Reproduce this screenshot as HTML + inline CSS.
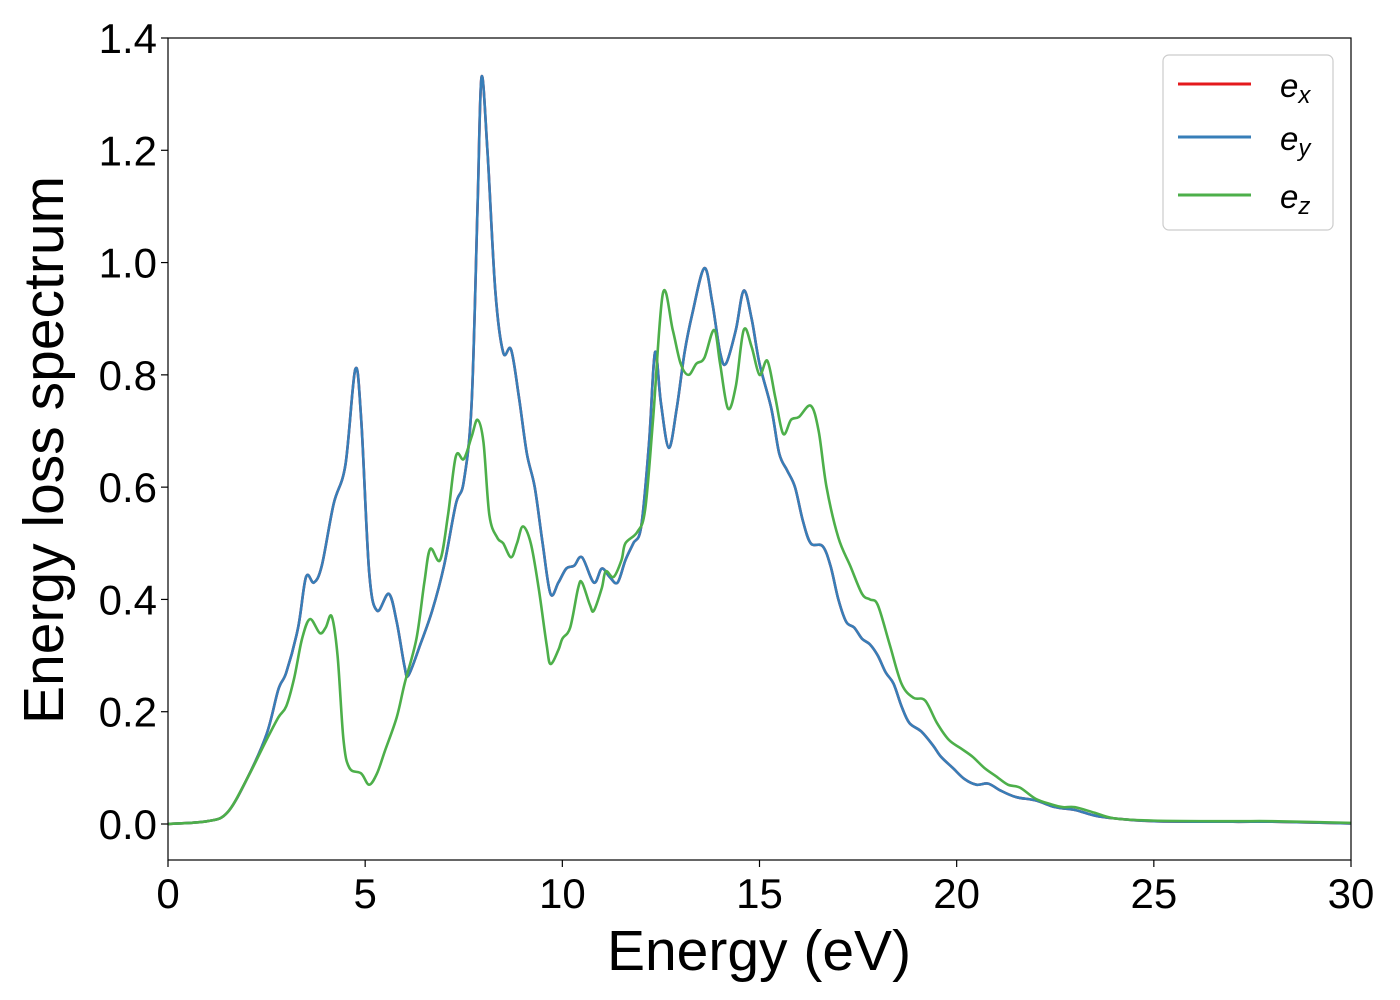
<!DOCTYPE html>
<html><head><meta charset="utf-8"><style>
body{margin:0;background:#fff;}
svg{display:block;font-family:"Liberation Sans","DejaVu Sans",sans-serif;}
</style></head><body>
<svg id="chart" width="1400" height="1000" viewBox="0 0 1400 1000" xmlns="http://www.w3.org/2000/svg">
<rect width="1400" height="1000" fill="#fff"/>
<g id="series"></g>
<rect x="168" y="38" width="1183" height="822" fill="none" stroke="#000" stroke-width="1.2"/>
<g id="ticks"></g>
<text x="759" y="970" font-size="57" text-anchor="middle">Energy (eV)</text>
<text transform="translate(63,450) rotate(-90)" font-size="57" text-anchor="middle">Energy loss spectrum</text>
<g>
<rect x="1163" y="55" width="170" height="175" rx="6" fill="#fff" fill-opacity="0.8" stroke="#ccc" stroke-width="1.2"/>
<line x1="1178" y1="84" x2="1251" y2="84" stroke="#e41a1c" stroke-width="3"/>
<text x="1280" y="97" font-size="33" font-style="italic">e<tspan font-size="24" dy="6">x</tspan></text>
<line x1="1178" y1="137" x2="1251" y2="137" stroke="#377eb8" stroke-width="3"/>
<text x="1280" y="150" font-size="33" font-style="italic">e<tspan font-size="24" dy="6">y</tspan></text>
<line x1="1178" y1="195" x2="1251" y2="195" stroke="#4daf4a" stroke-width="3"/>
<text x="1280" y="208" font-size="33" font-style="italic">e<tspan font-size="24" dy="6">z</tspan></text>
</g>
</svg>
<script>
const xTickLabels = ["0","5","10","15","20","25","30"];
const xTickValues = [0,5,10,15,20,25,30];
const yTickLabels = ["0.0","0.2","0.4","0.6","0.8","1.0","1.2","1.4"];
const yTickValues = [0,0.2,0.4,0.6,0.8,1.0,1.2,1.4];
const exyEnergy = [0,1,1.5,2,2.5,2.8,3.0,3.3,3.5,3.7,3.9,4.2,4.5,4.75,4.9,5.1,5.3,5.6,5.8,6.0,6.1,6.4,6.7,7.0,7.3,7.5,7.7,7.85,7.95,8.1,8.3,8.5,8.7,8.9,9.1,9.3,9.5,9.7,9.9,10.1,10.3,10.5,10.8,11.0,11.2,11.4,11.6,11.8,12.0,12.2,12.35,12.5,12.7,12.9,13.1,13.3,13.6,13.8,14.0,14.15,14.4,14.6,14.8,15.0,15.3,15.5,15.7,15.9,16.1,16.3,16.6,16.8,17.0,17.2,17.4,17.6,17.8,18.0,18.2,18.4,18.6,18.8,19.1,19.4,19.6,19.9,20.2,20.5,20.8,21.1,21.5,22.0,22.5,23.0,23.5,24,25,27,28,30];
const exyLoss = [0,0.005,0.02,0.08,0.16,0.24,0.27,0.35,0.44,0.43,0.46,0.57,0.64,0.81,0.72,0.45,0.38,0.41,0.36,0.28,0.265,0.32,0.38,0.46,0.57,0.61,0.75,1.1,1.33,1.2,0.95,0.84,0.845,0.76,0.66,0.6,0.5,0.41,0.43,0.455,0.46,0.475,0.43,0.455,0.44,0.43,0.47,0.5,0.53,0.68,0.84,0.75,0.67,0.74,0.84,0.91,0.99,0.93,0.84,0.82,0.88,0.95,0.9,0.82,0.74,0.66,0.63,0.6,0.54,0.5,0.495,0.46,0.4,0.36,0.35,0.33,0.32,0.3,0.27,0.25,0.21,0.18,0.165,0.14,0.12,0.1,0.08,0.07,0.072,0.06,0.048,0.042,0.03,0.025,0.015,0.01,0.005,0.004,0.004,0.001];
const ezEnergy = [0,1,1.5,2,2.5,2.8,3.0,3.2,3.4,3.6,3.85,4.0,4.15,4.3,4.45,4.6,4.9,5.1,5.3,5.5,5.8,6.0,6.3,6.5,6.65,6.9,7.1,7.3,7.5,7.7,7.85,8.0,8.15,8.35,8.5,8.7,8.85,9.0,9.2,9.4,9.6,9.7,9.9,10.0,10.2,10.4,10.5,10.7,10.8,11.0,11.1,11.3,11.5,11.6,11.9,12.1,12.3,12.55,12.8,13.0,13.2,13.4,13.6,13.85,14.0,14.2,14.4,14.6,14.8,15.0,15.2,15.4,15.6,15.8,16.0,16.3,16.5,16.7,17.0,17.3,17.6,17.8,18.0,18.3,18.6,18.9,19.2,19.5,19.8,20.1,20.4,20.7,21.0,21.3,21.6,22.0,22.4,22.7,23.0,23.5,24,25,27,28,30];
const ezLoss = [0,0.005,0.02,0.08,0.15,0.19,0.21,0.26,0.33,0.365,0.34,0.35,0.37,0.3,0.15,0.1,0.09,0.07,0.09,0.13,0.19,0.25,0.33,0.43,0.49,0.47,0.55,0.655,0.65,0.69,0.72,0.68,0.55,0.51,0.5,0.475,0.5,0.53,0.5,0.42,0.32,0.285,0.31,0.33,0.35,0.42,0.43,0.39,0.38,0.42,0.45,0.44,0.47,0.5,0.52,0.56,0.72,0.945,0.88,0.82,0.8,0.82,0.83,0.88,0.82,0.74,0.78,0.88,0.85,0.8,0.825,0.76,0.695,0.72,0.725,0.745,0.7,0.6,0.51,0.46,0.41,0.4,0.39,0.32,0.25,0.225,0.22,0.18,0.15,0.135,0.12,0.1,0.085,0.07,0.065,0.045,0.035,0.03,0.03,0.02,0.01,0.006,0.005,0.005,0.002];

const NS="http://www.w3.org/2000/svg";
const xScale = v => 168 + v*(1351-168)/30;
const yScale = v => 824 - v*(824-38)/1.4;
function smoothPath(xs, ys){
  const p = xs.map((x,i)=>[xScale(x), yScale(ys[i])]);
  let d = "M"+p[0][0].toFixed(2)+","+p[0][1].toFixed(2);
  for(let i=0;i<p.length-1;i++){
    const p0=p[Math.max(0,i-1)], p1=p[i], p2=p[i+1], p3=p[Math.min(p.length-1,i+2)];
    const c1=[p1[0]+(p2[0]-p0[0])/6, p1[1]+(p2[1]-p0[1])/6];
    const c2=[p2[0]-(p3[0]-p1[0])/6, p2[1]-(p3[1]-p1[1])/6];
    d+=" C"+c1[0].toFixed(2)+","+c1[1].toFixed(2)+" "+c2[0].toFixed(2)+","+c2[1].toFixed(2)+" "+p2[0].toFixed(2)+","+p2[1].toFixed(2);
  }
  return d;
}
const g = document.getElementById("series");
function addLine(xs, ys, color, name){
  const path = document.createElementNS(NS,"path");
  path.setAttribute("d", smoothPath(xs, ys));
  path.setAttribute("fill","none");
  path.setAttribute("stroke",color);
  path.setAttribute("stroke-width","2.6");
  path.setAttribute("stroke-linejoin","round");
  
  
  g.appendChild(path);
}
addLine(exyEnergy, exyLoss, "#e41a1c", "line-ex");
addLine(exyEnergy, exyLoss, "#377eb8", "line-ey");
addLine(ezEnergy, ezLoss, "#4daf4a", "line-ez");

const t = document.getElementById("ticks");
xTickValues.forEach((v,i)=>{
  const x = xScale(v);
  const ln = document.createElementNS(NS,"line");
  ln.setAttribute("x1",x); ln.setAttribute("x2",x);
  ln.setAttribute("y1",860); ln.setAttribute("y2",867);
  ln.setAttribute("stroke","#000"); ln.setAttribute("stroke-width","1.2");
  
  
  t.appendChild(ln);
  const tx = document.createElementNS(NS,"text");
  tx.setAttribute("x",x); tx.setAttribute("y",908);
  tx.setAttribute("font-size","42"); tx.setAttribute("text-anchor","middle");
  tx.textContent = xTickLabels[i];
  
  
  t.appendChild(tx);
});
yTickValues.forEach((v,i)=>{
  const y = yScale(v);
  const ln = document.createElementNS(NS,"line");
  ln.setAttribute("x1",161); ln.setAttribute("x2",168);
  ln.setAttribute("y1",y); ln.setAttribute("y2",y);
  ln.setAttribute("stroke","#000"); ln.setAttribute("stroke-width","1.2");
  
  
  t.appendChild(ln);
  const tx = document.createElementNS(NS,"text");
  tx.setAttribute("x",157); tx.setAttribute("y",y+15);
  tx.setAttribute("font-size","42"); tx.setAttribute("text-anchor","end");
  tx.textContent = yTickLabels[i];
  
  
  t.appendChild(tx);
});
</script>
</body></html>
